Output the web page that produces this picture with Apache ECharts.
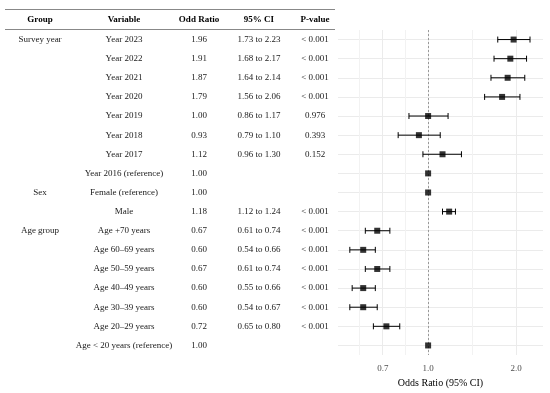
<!DOCTYPE html>
<html>
<head>
<meta charset="utf-8">
<script src="https://cdn.jsdelivr.net/npm/echarts@6/dist/echarts.min.js"></script>
<style>html,body{margin:0;padding:0;background:#fff}#c{width:550px;height:393px}</style>
</head>
<body>
<div id="c"></div>
<script>
const headers = ['Group', 'Variable', 'Odd Ratio', '95% CI', 'P-value'];
const groups = ['Survey year', '', '', '', '', '', '', '', 'Sex', '', 'Age group', '', '', '', '', '', ''];
const variables = ['Year 2023', 'Year 2022', 'Year 2021', 'Year 2020', 'Year 2019', 'Year 2018', 'Year 2017',
  'Year 2016 (reference)', 'Female (reference)', 'Male', 'Age +70 years', 'Age 60\u201369 years',
  'Age 50\u201359 years', 'Age 40\u201349 years', 'Age 30\u201339 years', 'Age 20\u201329 years', 'Age < 20 years (reference)'];
const oddRatio = [1.96, 1.91, 1.87, 1.79, 1.00, 0.93, 1.12, 1.00, 1.00, 1.18, 0.67, 0.60, 0.67, 0.60, 0.60, 0.72, 1.00];
const ciLower = [1.73, 1.68, 1.64, 1.56, 0.86, 0.79, 0.96, null, null, 1.12, 0.61, 0.54, 0.61, 0.55, 0.54, 0.65, null];
const ciUpper = [2.23, 2.17, 2.14, 2.06, 1.17, 1.10, 1.30, null, null, 1.24, 0.74, 0.66, 0.74, 0.66, 0.67, 0.80, null];
const pValues = ['< 0.001', '< 0.001', '< 0.001', '< 0.001', '0.976', '0.393', '0.152', '', '', '< 0.001',
  '< 0.001', '< 0.001', '< 0.001', '< 0.001', '< 0.001', '< 0.001', ''];
const xTicks = [0.7, 1.0, 2.0];
const xRange = [0.492, 2.47];
const xTitle = 'Odds Ratio (95% CI)';

const FONT = 'Liberation Serif';
const colX = [40, 124, 199, 259, 315];

const logTicks = xTicks.map(Math.log);
const minorTicks = [logTicks[0] - (logTicks[1] - logTicks[0]) / 2];
for (let i = 0; i < logTicks.length - 1; i++) minorTicks.push((logTicks[i] + logTicks[i + 1]) / 2);

const chart = echarts.init(document.getElementById('c'), null, {renderer: 'canvas'});

const gridColor = '#ebebeb';

chart.setOption({
  animation: false,
  grid: {left: 338, width: 205, top: 30, height: 331},
  xAxis: {
    type: 'value',
    min: Math.log(xRange[0]),
    max: Math.log(xRange[1]),
    axisLine: {show: false},
    axisTick: {show: false},
    splitLine: {show: false},
    axisLabel: {
      customValues: logTicks,
      formatter: v => Math.exp(v).toFixed(1),
      fontFamily: FONT, fontSize: 9, color: '#4d4d4d', margin: 9
    },
    name: xTitle,
    nameLocation: 'middle',
    nameGap: 23,
    nameTextStyle: {fontFamily: FONT, fontSize: 10, color: '#000'}
  },
  yAxis: {
    type: 'category',
    inverse: true,
    data: variables,
    axisLine: {show: false},
    axisTick: {show: false},
    axisLabel: {show: false},
    splitLine: {show: false}
  },
  graphic: [
    {type: 'line', shape: {x1: 5, y1: 9.5, x2: 335, y2: 9.5}, style: {stroke: '#888', lineWidth: 1}},
    {type: 'line', shape: {x1: 5, y1: 29.5, x2: 335, y2: 29.5}, style: {stroke: '#888', lineWidth: 1}},
    ...headers.map((h, i) => ({
      type: 'text', x: colX[i], y: 20,
      style: {text: h, fontFamily: FONT, fontSize: 9, fontWeight: 'bold', fill: '#000', align: 'center', verticalAlign: 'middle'}
    }))
  ],
  series: [
    {
      type: 'line', data: [], silent: true, z: 1,
      markLine: {
        silent: true, symbol: 'none', label: {show: false}, z: 1,
        lineStyle: {color: gridColor, width: 1, type: 'solid'},
        data: [
          ...variables.map(v => ({yAxis: v})),
          ...logTicks.map(v => ({xAxis: v})),
          ...minorTicks.map(v => ({xAxis: v, lineStyle: {color: '#f2f2f2', width: 1}}))
        ]
      }
    },
    {
      type: 'line', data: [], silent: true, z: 3,
      markLine: {
        silent: true, symbol: 'none', label: {show: false}, z: 3,
        lineStyle: {color: '#999', width: 1, type: [2, 2]},
        data: [{xAxis: 0}]
      }
    },
    {
      type: 'custom', z: 10, silent: true,
      data: variables.map((v, i) => [Math.log(oddRatio[i]), i, ciLower[i] == null ? NaN : Math.log(ciLower[i]), ciUpper[i] == null ? NaN : Math.log(ciUpper[i])]),
      encode: {x: 0, y: 1},
      renderItem: (params, api) => {
        const lo = api.value(2), hi = api.value(3), row = api.value(1);
        if (isNaN(lo) || isNaN(hi)) return {type: 'group', children: []};
        const a = api.coord([lo, row]);
        const b = api.coord([hi, row]);
        const st = {stroke: '#000', lineWidth: 1};
        return {
          type: 'group',
          children: [
            {type: 'line', shape: {x1: a[0], y1: a[1], x2: b[0], y2: b[1]}, style: st},
            {type: 'line', shape: {x1: a[0], y1: a[1] - 3, x2: a[0], y2: a[1] + 3}, style: st},
            {type: 'line', shape: {x1: b[0], y1: b[1] - 3, x2: b[0], y2: b[1] + 3}, style: st}
          ]
        };
      }
    },
    {
      type: 'scatter', z: 11, silent: true,
      symbol: 'rect', symbolSize: 6,
      itemStyle: {color: '#000'},
      data: oddRatio.map((v, i) => [Math.log(v), i])
    },
    {
      type: 'custom', z: 12, silent: true, clip: false,
      data: variables.map((v, i) => [0, i]),
      encode: {x: 0, y: 1},
      renderItem: (params, api) => {
        const i = params.dataIndex;
        const y = api.coord([0, api.value(1)])[1];
        const ci = ciLower[i] == null ? '' : ciLower[i].toFixed(2) + ' to ' + ciUpper[i].toFixed(2);
        const texts = [groups[i], variables[i], oddRatio[i].toFixed(2), ci, pValues[i]];
        return {
          type: 'group',
          children: texts.map((t, k) => ({
            type: 'text', x: colX[k], y: y,
            style: {text: t, fontFamily: FONT, fontSize: 9, fill: '#1a1a1a', align: 'center', verticalAlign: 'middle'}
          }))
        };
      }
    }
  ]
});
</script>
</body>
</html>
